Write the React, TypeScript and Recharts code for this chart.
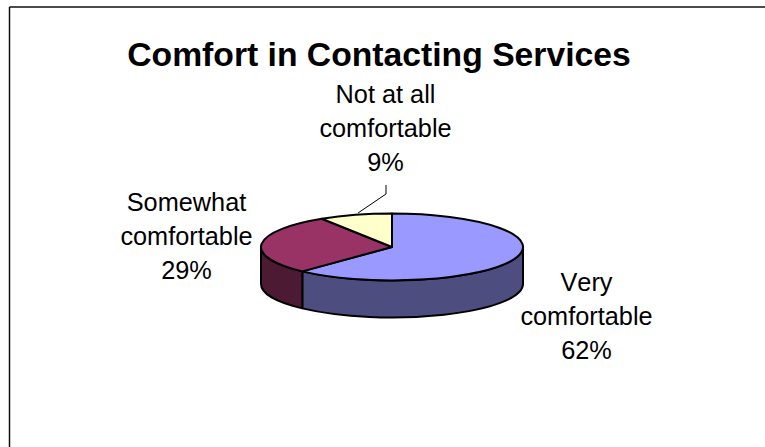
import { Pie, PieChart } from "recharts";

const TITLE = "Comfort in Contacting Services";
const CATEGORIES = ["Very comfortable", "Somewhat comfortable", "Not at all comfortable"];
const VALUES = [62, 29, 9];
const TOP_COLORS = ["#9999ff", "#993366", "#ffffcc"];
const WALL_COLORS = ["#4d4d80", "#4d1a33", "#80805f"];

const data = CATEGORIES.map((name, i) => ({
  name,
  value: VALUES[i],
  topFill: TOP_COLORS[i],
  wallFill: WALL_COLORS[i],
}));

const W = 765;
const H = 447;
const CX = 392;
const CY = 247;
const RADIUS = 131;
const SQUASH = 0.255; // tilt of the disc
const DEPTH = 37;
const FONT = "'Liberation Sans', Arial, sans-serif";

const px = (cx: number, r: number, a: number) => cx + r * Math.cos((a * Math.PI) / 180);
const py = (cy: number, r: number, a: number) => cy - r * SQUASH * Math.sin((a * Math.PI) / 180);

function TopSlice(props: any) {
  const { cx, cy, outerRadius: r, startAngle, endAngle, payload } = props;
  const large = Math.abs(endAngle - startAngle) > 180 ? 1 : 0;
  const sweep = endAngle < startAngle ? 1 : 0;
  const d = `M${cx},${cy} L${px(cx, r, startAngle)},${py(cy, r, startAngle)} A${r},${r * SQUASH} 0 ${large} ${sweep} ${px(cx, r, endAngle)},${py(cy, r, endAngle)} Z`;
  return <path d={d} fill={payload.topFill} stroke="#000" strokeWidth={2} strokeLinejoin="round" />;
}

// only the front half of the rim is visible
function WallSlice(props: any) {
  const { cx, cy, outerRadius: r, startAngle, endAngle, payload } = props;
  const a0 = Math.min(startAngle, 0);
  const a1 = Math.max(endAngle, -180);
  if (a0 <= a1) return null;
  const d = `M${px(cx, r, a0)},${py(cy, r, a0)} A${r},${r * SQUASH} 0 0 1 ${px(cx, r, a1)},${py(cy, r, a1)} L${px(cx, r, a1)},${py(cy, r, a1) + DEPTH} A${r},${r * SQUASH} 0 0 0 ${px(cx, r, a0)},${py(cy, r, a0) + DEPTH} Z`;
  return <path d={d} fill={payload.wallFill} stroke="#000" strokeWidth={2} strokeLinejoin="round" />;
}

const LABEL_LINES: { x: number; lines: string[]; y: number }[] = [
  { x: 586.5, y: 291, lines: ["Very", "comfortable", `${VALUES[0]}%`] },
  { x: 186.5, y: 211, lines: ["Somewhat", "comfortable", `${VALUES[1]}%`] },
  { x: 385.5, y: 103, lines: ["Not at all", "comfortable", `${VALUES[2]}%`] },
];

export default function App() {
  return (
    <div style={{ position: "absolute", left: 0, top: 0, width: W, height: H, background: "#fff" }}>
      <PieChart width={W} height={H} margin={{ top: 0, right: 0, bottom: 0, left: 0 }}>
        <line x1={9.5} y1={7} x2={W} y2={7} stroke="#111" strokeWidth={1.5} />
        <line x1={9.5} y1={7} x2={9.5} y2={H} stroke="#111" strokeWidth={1.5} />
        <text x={379} y={66} textAnchor="middle" fontFamily={FONT} fontWeight="bold" fontSize={33.7} fill="#000">
          {TITLE}
        </text>
        <Pie
          data={data}
          dataKey="value"
          cx={CX}
          cy={CY}
          outerRadius={RADIUS}
          startAngle={90}
          endAngle={-270}
          paddingAngle={0}
          shape={WallSlice}
          stroke="none"
          isAnimationActive={false}
        />
        <Pie
          data={data}
          dataKey="value"
          cx={CX}
          cy={CY}
          outerRadius={RADIUS}
          startAngle={90}
          endAngle={-270}
          paddingAngle={0}
          shape={TopSlice}
          stroke="none"
          isAnimationActive={false}
        />
        <polyline points="386,185 386,194 358,213" fill="none" stroke="#000" strokeWidth={1} />
        {LABEL_LINES.map((l) => (
          <text key={l.x} textAnchor="middle" fontFamily={FONT} fontSize={25.3} fill="#000" style={{ fontKerning: "none" }}>
            {l.lines.map((t, i) => (
              <tspan key={t} x={l.x} y={l.y + i * 34}>
                {t}
              </tspan>
            ))}
          </text>
        ))}
      </PieChart>
    </div>
  );
}
